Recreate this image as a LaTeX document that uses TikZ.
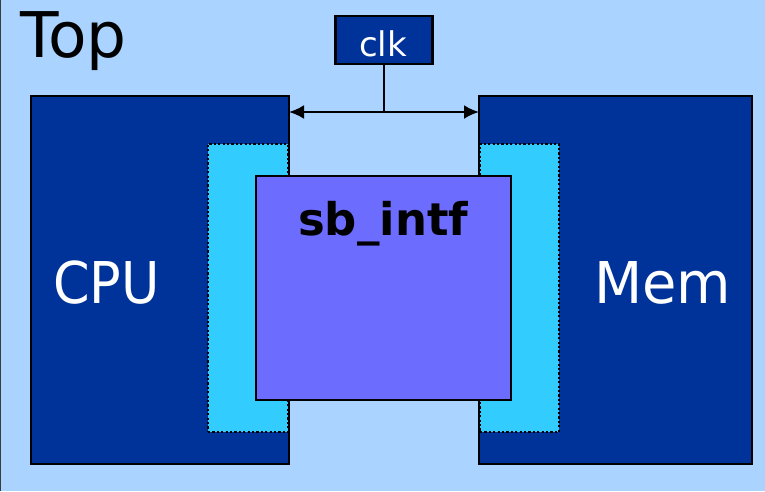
\documentclass[tikz,border=0pt]{standalone}
\usepackage{fontspec}
\setmainfont{DejaVu Sans}
\usetikzlibrary{arrows.meta}
\definecolor{bgblue}{RGB}{170,212,255}
\definecolor{darkblue}{RGB}{0,51,153}
\definecolor{cyanbox}{RGB}{51,204,255}
\definecolor{violet}{RGB}{108,108,255}
\definecolor{edgegray}{RGB}{60,60,60}
\tikzset{
  block/.style={draw=black, line width=2.6pt, fill=darkblue, inner sep=0pt, outer sep=0pt},
  port/.style={draw=black, line width=2pt, fill=cyanbox, dash pattern=on 2.2pt off 2.2pt, inner sep=0pt, outer sep=0pt},
  iface/.style={draw=black, line width=2.6pt, fill=violet, inner sep=0pt, outer sep=0pt},
  wire/.style={line width=2.4pt, draw=black},
  bigwhite/.style={text=white, inner sep=0pt, font=\fontsize{57.6}{60}\selectfont},
}
\begin{document}
\begin{tikzpicture}[x=1pt, y=-1pt]
  \useasboundingbox (0,0) rectangle (765,491);
  \fill[bgblue] (0,0) rectangle (765,491);
  \draw[edgegray, line width=1.2pt] (0.6,0) -- (0.6,491);

  % title
  \node[anchor=base west, inner sep=0pt, font=\fontsize{63}{66}\selectfont] (title) at (20,57) {Top};

  % CPU and memory blocks
  \node[block, minimum width=258pt, minimum height=368pt] (cpu) at (160,280) {};
  \node[block, minimum width=273pt, minimum height=368pt] (mem) at (615.5,280) {};

  % port regions of the interface
  \node[port, minimum width=80pt, minimum height=288pt] (lport) at (248,288) {};
  \node[port, minimum width=79pt, minimum height=288pt] (rport) at (519.5,288) {};

  % the interface itself
  \node[iface, minimum width=255pt, minimum height=224pt] (intf) at (383.5,288) {};

  % labels
  \node[bigwhite, anchor=base west, xscale=0.91, transform shape] (cpulbl) at (53,303) {CPU};
  \node[bigwhite, anchor=base west, xscale=0.97, transform shape] (memlbl) at (594,303) {Mem};
  \node[anchor=base west, inner sep=0pt, font=\bfseries\fontsize{45}{48}\selectfont] (intflbl) at (298,235) {sb\_intf};

  % clock
  \node[draw=black, line width=2.6pt, fill=darkblue, minimum width=97pt, minimum height=48pt, inner sep=0pt] (clk) at (384,40) {};
  \node[anchor=base, text=white, inner sep=0pt, font=\fontsize{34}{36}\selectfont] (clklbl) at (383,56) {clk};
  \coordinate (tap) at (384,112);
  \draw[wire] (clk.south) -- (tap);
  \draw[wire, {Latex[length=15pt,width=14pt]}-{Latex[length=15pt,width=14pt]}] (cpu.east |- tap) -- (mem.west |- tap);
\end{tikzpicture}
\end{document}
